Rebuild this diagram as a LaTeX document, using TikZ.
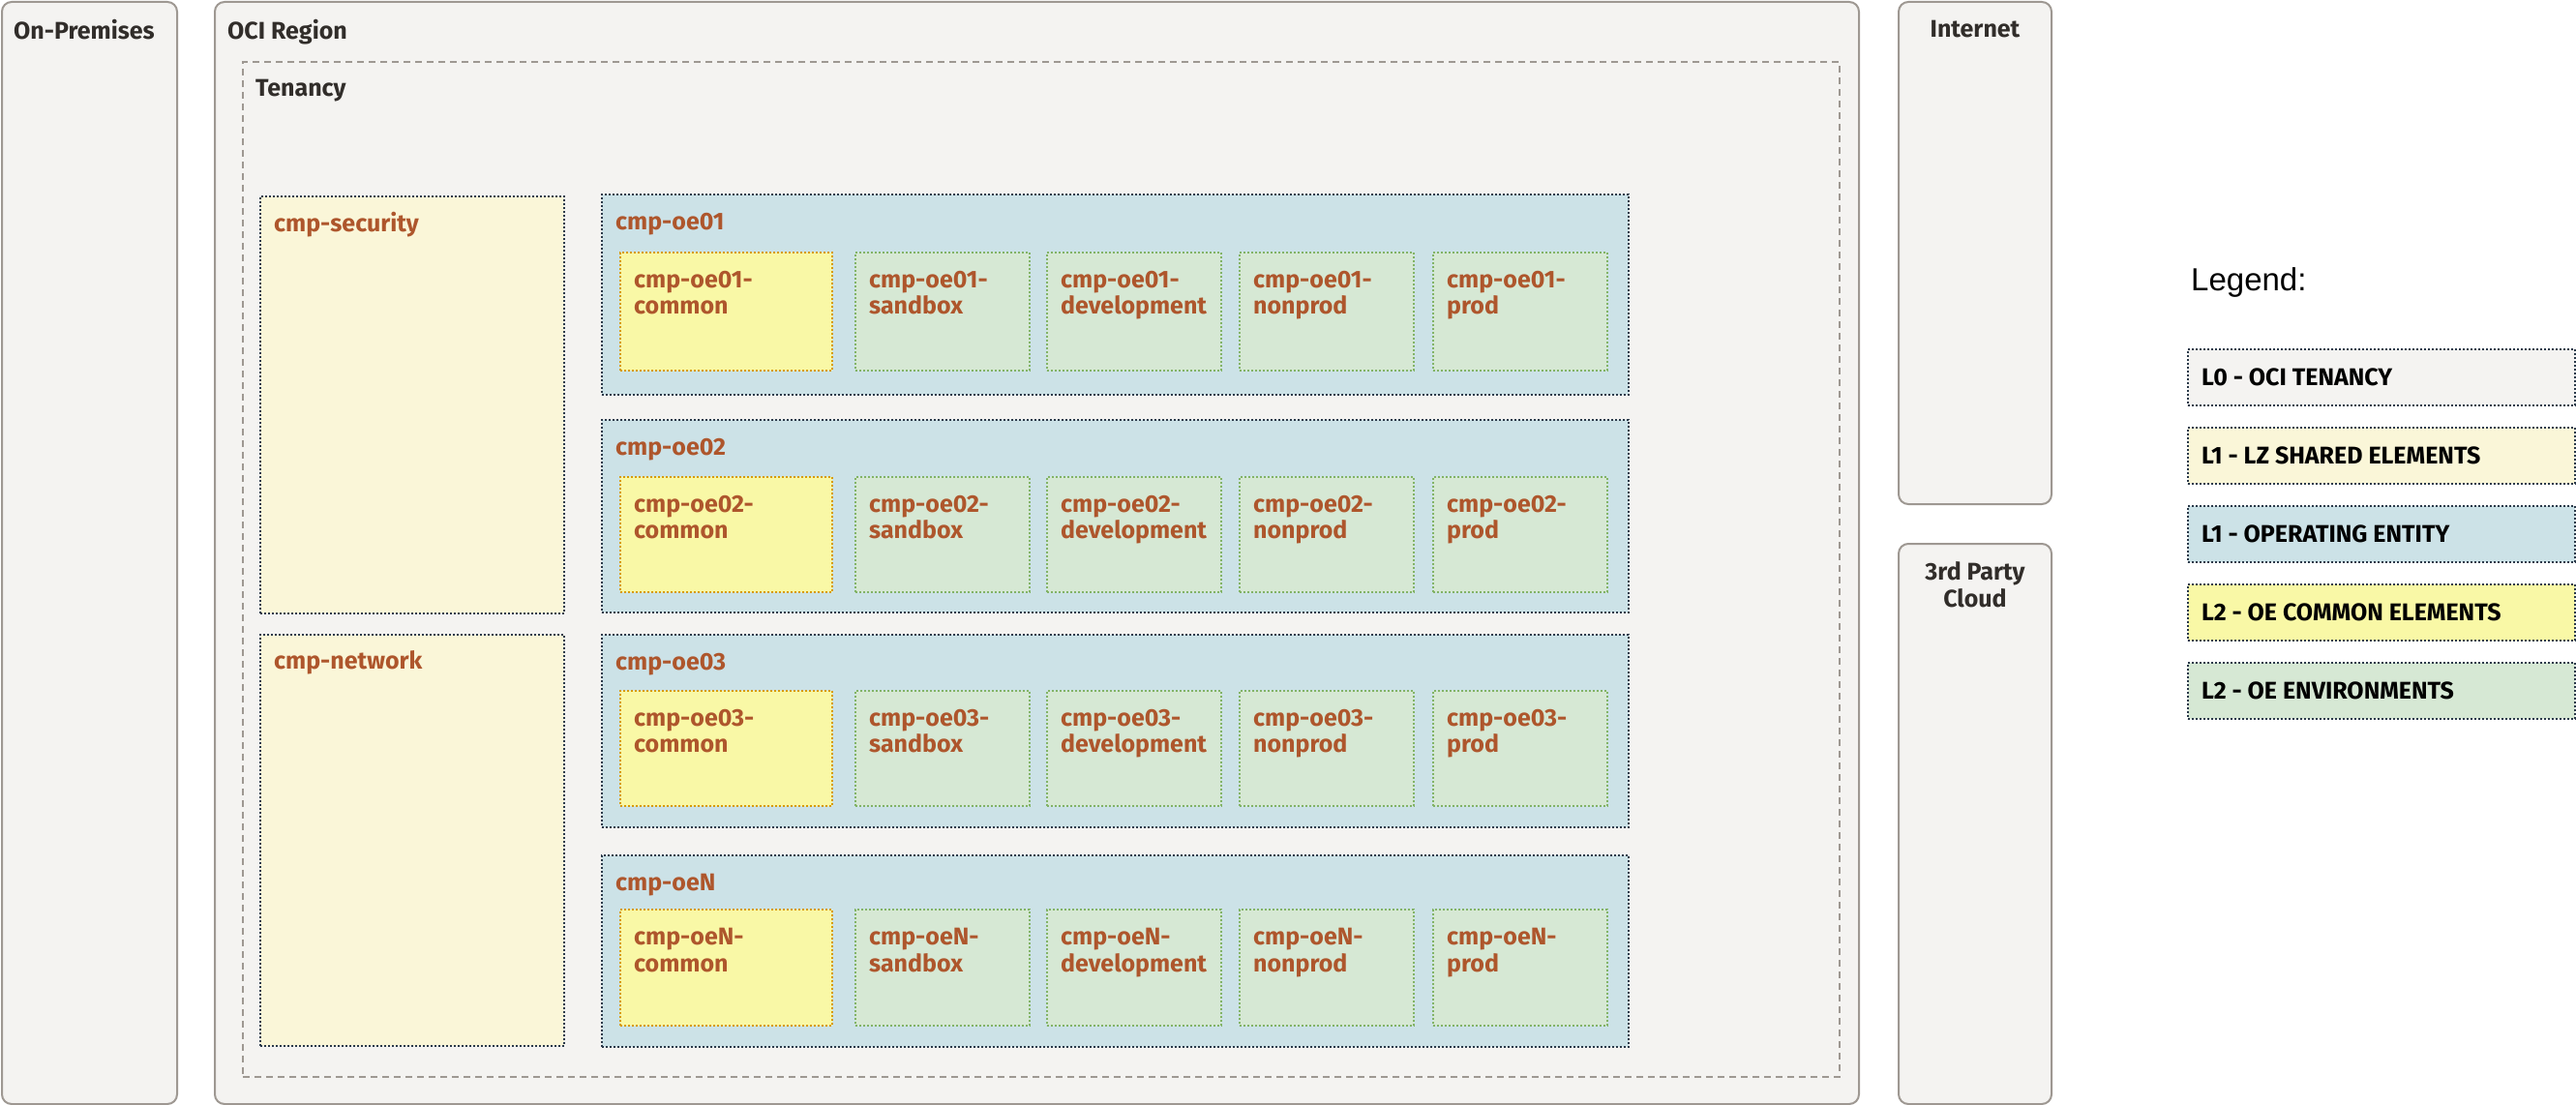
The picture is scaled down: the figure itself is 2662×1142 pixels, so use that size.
\documentclass[tikz,border=0pt]{standalone}
\usepackage{fontspec}
\setmainfont{Fira Sans}
\newfontfamily\legfont{Liberation Sans}
\definecolor{regfill}{HTML}{F4F3F1}
\definecolor{regborder}{HTML}{9E9892}
\definecolor{sharedfill}{HTML}{FAF6D8}
\definecolor{oefill}{HTML}{CCE2E7}
\definecolor{commonfill}{HTML}{F9F8A6}
\definecolor{commonborder}{HTML}{D79B00}
\definecolor{envfill}{HTML}{D6E8D4}
\definecolor{envborder}{HTML}{82B366}
\definecolor{dotdark}{HTML}{2B3A4A}
\definecolor{lblcol}{HTML}{AE562C}
\definecolor{hdrcol}{HTML}{312D2A}
\tikzset{
  zone/.style={draw=regborder, fill=regfill, line width=2pt, rounded corners=10pt, rectangle, anchor=north west, inner sep=0pt},
  tenbox/.style={draw=regborder, line width=1.8pt, dash pattern=on 7pt off 5pt, rectangle, anchor=north west, inner sep=0pt},
  dotline/.style={line width=2pt, dash pattern=on 2pt off 2pt},
  l1shared/.style={draw=dotdark, fill=sharedfill, dotline, rectangle, anchor=north west, inner sep=0pt},
  l1oe/.style={draw=dotdark, fill=oefill, dotline, rectangle, anchor=north west, inner sep=0pt},
  l2com/.style={draw=commonborder, fill=commonfill, dotline, rectangle, anchor=north west, inner sep=0pt},
  l2env/.style={draw=envborder, fill=envfill, dotline, rectangle, anchor=north west, inner sep=0pt},
  legbox/.style={draw=dotdark, dotline, rectangle, anchor=north west, inner sep=0pt, minimum width=400pt, minimum height=58pt},
  hdr/.style={text=hdrcol, font=\fontsize{25}{28}\selectfont\bfseries, inner sep=0pt, anchor=north west},
  lbl/.style={text=lblcol, font=\fontsize{25}{27.5}\selectfont\bfseries, inner sep=0pt, anchor=north west, align=left},
  legtxt/.style={text=black, font=\fontsize{25}{28}\selectfont\bfseries, inner sep=0pt, anchor=west},
}
\begin{document}
\begin{tikzpicture}[x=1pt,y=-1pt]
\useasboundingbox (0,0) rectangle (2662,1142);
% outer zones
\node[zone, minimum width=181pt, minimum height=1139pt] (onprem) at (1,1) {};
\node[hdr] (onpremlbl) at ([xshift=13pt,yshift=-19pt]onprem.north west) {On-Premises};
\node[zone, minimum width=1699pt, minimum height=1139pt] (oci) at (221,1) {};
\node[hdr] (ocilbl) at ([xshift=14pt,yshift=-19pt]oci.north west) {OCI Region};
\node[zone, minimum width=158pt, minimum height=519pt] (internet) at (1961,1) {};
\node[hdr, anchor=north] (internetlbl) at ([yshift=-20pt]internet.north) {Internet};
\node[zone, minimum width=158pt, minimum height=579pt] (third) at (1961,561) {};
\node[hdr, anchor=north, align=center] (thirdlbl) at ([yshift=-19pt]third.north) {3rd Party\\Cloud};
% tenancy
\node[tenbox, minimum width=1650pt, minimum height=1049pt] (tenancy) at (250,63) {};
\node[hdr] (tenlbl) at ([xshift=14pt,yshift=-19pt]tenancy.north west) {Tenancy};
% shared
\node[l1shared, minimum width=314pt, minimum height=431pt] (security) at (268,202) {};
\node[lbl] (seclbl) at ([xshift=15pt,yshift=-17pt]security.north west) {cmp-security};
\node[l1shared, minimum width=314pt, minimum height=425pt] (network) at (268,655) {};
\node[lbl] (netlbl) at ([xshift=15pt,yshift=-17pt]network.north west) {cmp-network};
% OE blocks
\foreach \oe/\ty/\th/\iy/\ih in {oe01/200/207/260/122, oe02/433/199/492/119, oe03/655/199/713/119, oeN/883/198/939/120}{
  \node[l1oe, minimum width=1061pt, minimum height=\th pt] (\oe) at (621,\ty) {};
  \node[lbl] (\oe lbl) at ([xshift=15pt,yshift=-20pt]\oe.north west) {cmp-\oe};
  \node[l2com, minimum width=219pt, minimum height=\ih pt] (\oe common) at (640,\iy) {};
  \node[lbl] (\oe commonlbl) at ([xshift=15pt,yshift=-20pt]\oe common.north west) {cmp-\oe-\\common};
  \foreach \nm/\x in {sandbox/883, development/1081, nonprod/1280, prod/1480}{
    \node[l2env, minimum width=180pt, minimum height=\ih pt] (\oe\nm) at (\x,\iy) {};
    \node[lbl] (\oe\nm lbl) at ([xshift=15pt,yshift=-20pt]\oe\nm.north west) {cmp-\oe-\\\nm};
  }
}
% legend
\node[text=black, font=\legfont\fontsize{33}{36}\selectfont, inner sep=0pt, anchor=west] (legend) at (2264,292) {Legend:};
\node[legbox, fill=regfill] (leg0) at (2260,360) {};
\node[legtxt] (leg0t) at ([xshift=15pt]leg0.west) {L0 - OCI TENANCY};
\node[legbox, fill=sharedfill] (leg1) at (2260,441) {};
\node[legtxt] (leg1t) at ([xshift=15pt]leg1.west) {L1 - LZ SHARED ELEMENTS};
\node[legbox, fill=oefill] (leg2) at (2260,522) {};
\node[legtxt] (leg2t) at ([xshift=15pt]leg2.west) {L1 - OPERATING ENTITY};
\node[legbox, fill=commonfill] (leg3) at (2260,603) {};
\node[legtxt] (leg3t) at ([xshift=15pt]leg3.west) {L2 - OE COMMON ELEMENTS};
\node[legbox, fill=envfill] (leg4) at (2260,684) {};
\node[legtxt] (leg4t) at ([xshift=15pt]leg4.west) {L2 - OE ENVIRONMENTS};
\end{tikzpicture}
\end{document}
